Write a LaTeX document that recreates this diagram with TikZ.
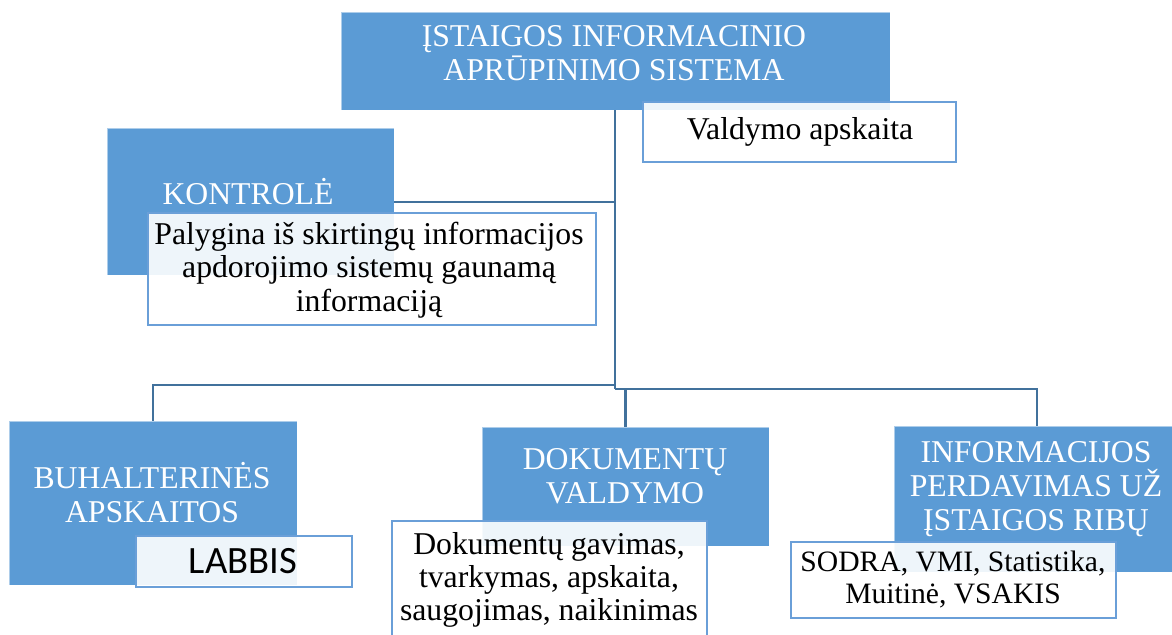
\documentclass[tikz,border=0pt]{standalone}
\usepackage{fontspec}
\setmainfont{Liberation Serif}
\newfontfamily\labbisfont{Carlito}
\definecolor{boxblue}{HTML}{5B9BD5}
\definecolor{lineblue}{HTML}{41719C}
\definecolor{edgeblue}{HTML}{6A9FD8}
\begin{document}
\begin{tikzpicture}[x=0.75pt, y=-0.75pt,
    bluebox/.style={fill=boxblue, draw=white, draw opacity=0.5, line width=0.6pt, inner sep=0pt},
    whitebox/.style={fill=white, fill opacity=0.9, text opacity=1, draw=edgeblue, line width=1.5pt, inner sep=0pt},
    headtxt/.style={text=white, align=center, font=\fontsize{23.8}{25.5}\selectfont},
    bodytxt/.style={text=black, align=center, font=\fontsize{23.8}{25}\selectfont},
    conn/.style={draw=lineblue, line width=1.6pt}]
    \useasboundingbox (0,0) rectangle (1172,635);
    \clip (0,0) rectangle (1172,635);
    % Connector points
    \coordinate (hub) at (615,389);
    \coordinate (kJ) at (615,202);
    \coordinate (lJ) at (615,385);
    \coordinate (rJ) at (1037,389);
    % Blue boxes
    \node[bluebox, minimum width=411.75pt, minimum height=73.5pt] (top) at (615.5,61) {};
    \node[bluebox, minimum width=215.25pt, minimum height=110.25pt] (kontrole) at (250.5,201.5) {};
    \node[bluebox, minimum width=216pt, minimum height=123pt] (buh) at (153,503) {};
    \node[bluebox, minimum width=215.25pt, minimum height=89.25pt] (dok) at (625.5,486.5) {};
    \node[bluebox, minimum width=218.25pt, minimum height=109.5pt] (info) at (1039.5,499) {};
    % Draw the connectors
    \draw[conn] (top.south -| hub) -- (hub);
    \draw[conn] (kontrole.east |- kJ) -- (kJ);
    \draw[conn] (lJ) -| (buh.north);
    \draw[conn] (hub) -- (rJ) -- (rJ |- info.north);
    \draw[conn] (hub -| dok.north) -- (dok.north);
    % Titles in the blue boxes
    \node[headtxt] (topT) at (614,53) {ĮSTAIGOS INFORMACINIO\\APRŪPINIMO SISTEMA};
    \node[headtxt] (kontroleT) at (248,192) {KONTROLĖ};
    \node[headtxt] (buhT) at (152,493) {BUHALTERINĖS\\APSKAITOS};
    \node[headtxt] (dokT) at (625,476) {DOKUMENTŲ\\VALDYMO};
    \node[headtxt] (infoT) at (1036,489) {INFORMACIJOS\\PERDAVIMAS UŽ\\ĮSTAIGOS RIBŲ};
    % White boxes
    \node[whitebox, minimum width=234.75pt, minimum height=45pt] (valdymo) at (799.5,132) {};
    \node[whitebox, minimum width=336pt, minimum height=84pt] (palygina) at (372,269) {};
    \node[whitebox, minimum width=162pt, minimum height=38.25pt] (labbis) at (244,561.5) {};
    \node[whitebox, minimum width=236.25pt, minimum height=96.75pt] (dokD) at (549.5,585.5) {};
    \node[whitebox, minimum width=243.75pt, minimum height=57pt] (sodra) at (953.5,580) {};
    % Texts in the white boxes
    \node[bodytxt] (valdymoT) at (800,132) {Valdymo apskaita};
    \node[bodytxt] (palyginaT) at (369,270) {Palygina iš skirtingų informacijos\\apdorojimo sistemų gaunamą\\informaciją};
    \node[text=black, font=\labbisfont\fontsize{29}{30}\selectfont] (labbisT) at (243,561) {LABBIS};
    \node[bodytxt] (dokDT) at (549,580) {Dokumentų gavimas,\\tvarkymas, apskaita,\\saugojimas, naikinimas};
    \node[bodytxt, font=\fontsize{22.2}{24}\selectfont] (sodraT) at (953,580) {SODRA, VMI, Statistika,\\Muitinė, VSAKIS};
\end{tikzpicture}
\end{document}
